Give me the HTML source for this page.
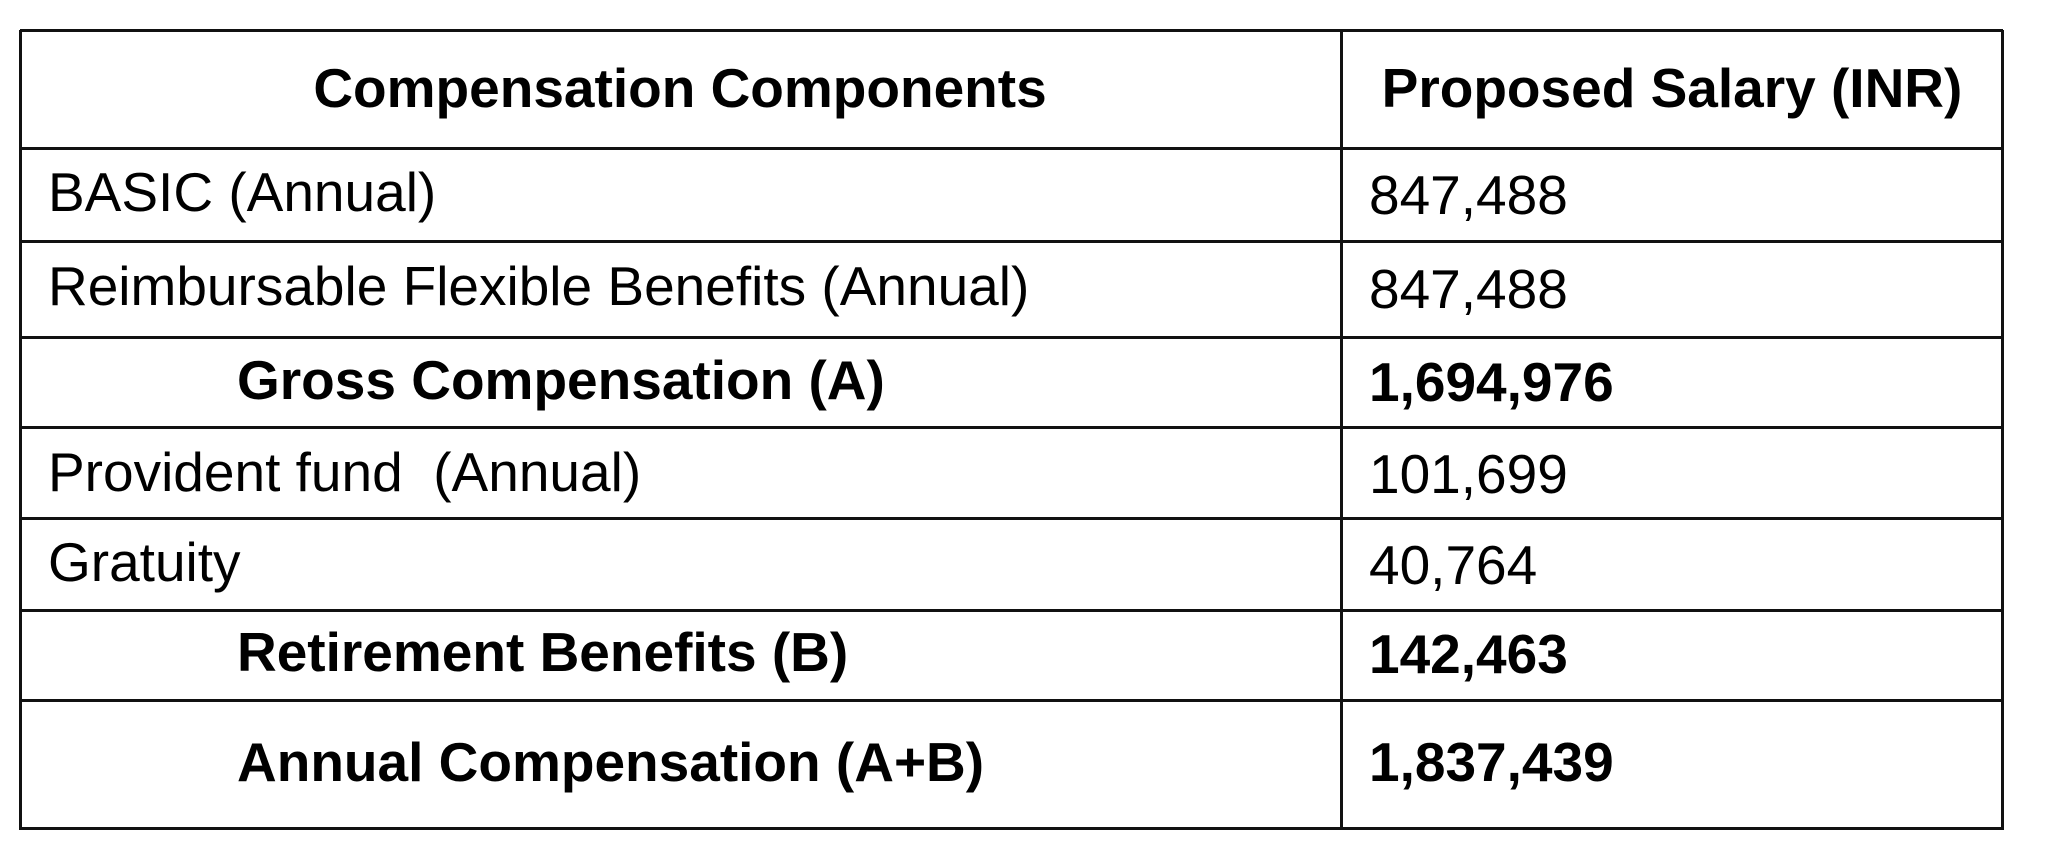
<!DOCTYPE html>
<html><head><meta charset="utf-8"><style>
html,body{margin:0;padding:0;background:#fff;width:2048px;height:850px;overflow:hidden}
body{position:relative;font-family:"Liberation Sans",Arial,sans-serif;color:#000}
.h{position:absolute;background:#111;height:3px;left:20px;width:1993px;width:1983px}
.v{position:absolute;background:#111;width:3px;top:30px;height:800px}
.t{position:absolute;font-size:55px;line-height:60px;white-space:nowrap}
.b{font-weight:bold}
</style></head><body>
<div class="h" style="top:29px"></div>
<div class="h" style="top:147px"></div>
<div class="h" style="top:240px"></div>
<div class="h" style="top:336px"></div>
<div class="h" style="top:426px"></div>
<div class="h" style="top:517px"></div>
<div class="h" style="top:609px"></div>
<div class="h" style="top:699px"></div>
<div class="h" style="top:827px"></div>
<div class="v" style="left:19px"></div>
<div class="v" style="left:1340px"></div>
<div class="v" style="left:2001px"></div>

<div class="t b" style="left:20px;width:1320px;text-align:center;top:58px">Compensation Components</div>
<div class="t b" style="left:1343px;width:658px;text-align:center;top:58px">Proposed Salary (INR)</div>

<div class="t" style="left:48px;top:162px">BASIC (Annual)</div>
<div class="t" style="left:1369px;top:165px">847,488</div>
<div class="t" style="left:48px;top:256px">Reimbursable Flexible Benefits (Annual)</div>
<div class="t" style="left:1369px;top:259px">847,488</div>
<div class="t b" style="left:237px;top:350px">Gross Compensation (A)</div>
<div class="t b" style="left:1369px;top:352px">1,694,976</div>
<div class="t" style="left:48px;top:442px">Provident fund&nbsp; (Annual)</div>
<div class="t" style="left:1369px;top:444px">101,699</div>
<div class="t" style="left:48px;top:532px">Gratuity</div>
<div class="t" style="left:1369px;top:535px">40,764</div>
<div class="t b" style="left:237px;top:622px">Retirement Benefits (B)</div>
<div class="t b" style="left:1369px;top:624px">142,463</div>
<div class="t b" style="left:237px;top:732px">Annual Compensation (A+B)</div>
<div class="t b" style="left:1369px;top:732px">1,837,439</div>
</body></html>
